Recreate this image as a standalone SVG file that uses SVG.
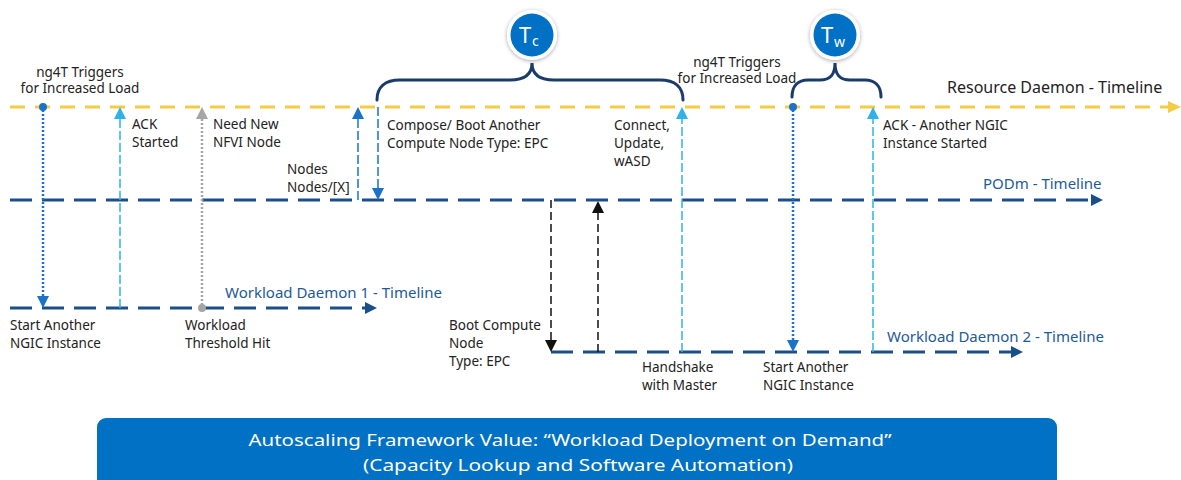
<svg xmlns="http://www.w3.org/2000/svg" width="1181" height="480" viewBox="0 0 1181 480">
<defs>
<style>
text{font-family:"Noto Sans","Open Sans","Liberation Sans",sans-serif;font-size:13.5px;fill:#222}
.lbl{fill:#1d5a9a;font-size:15px}
.big{fill:#222;font-size:16px}
.yl{stroke:#f3cb45;stroke-width:3;stroke-dasharray:15 10;fill:none}
.dl{stroke:#1b4f8a;stroke-width:3;stroke-dasharray:22 10;fill:none}
.bdot{stroke:#1a73c8;stroke-width:2.5;stroke-dasharray:2 2;fill:none}
.gdot{stroke:#a6a6a6;stroke-width:2.5;stroke-dasharray:2 2;fill:none}
.lb{stroke:#2fb2ea;stroke-width:1.5;stroke-dasharray:9 3;fill:none}
.bd{stroke:#1a73c8;stroke-width:1.5;stroke-dasharray:9 3;fill:none}
.kd{stroke:#111;stroke-width:1.5;stroke-dasharray:8 4;fill:none}
.brace{stroke:#1b3c6b;stroke-width:3;fill:none;stroke-linecap:round}
.tc{fill:#fff;font-size:22px}
.sub{fill:#fff;font-size:14px}
.bt{fill:#fff;font-size:16.5px}
</style>
<filter id="sh" x="-30%" y="-30%" width="160%" height="160%">
<feDropShadow dx="0" dy="1" stdDeviation="2" flood-color="#000" flood-opacity="0.35"/>
</filter>
</defs>

<g id="connectors">
<line class="yl" x1="10" y1="107" x2="1168" y2="107"/>
<polygon points="1168,101 1181,107 1168,113" fill="#f3cb45"/>
<line class="dl" x1="10" y1="200" x2="1091" y2="200"/>
<polygon points="1091,194 1103,200 1091,206" fill="#1b4f8a"/>
<line class="dl" x1="10" y1="308" x2="365" y2="308"/>
<polygon points="365,302 377,308 365,314" fill="#1b4f8a"/>
<line class="dl" x1="551" y1="352" x2="1011" y2="352"/>
<polygon points="1011,346 1023,352 1011,358" fill="#1b4f8a"/>

<line class="bdot" x1="43" y1="110" x2="43" y2="297"/>
<circle cx="43" cy="107" r="4" fill="#1a73c8"/>
<polygon points="37,296 49,296 43,308" fill="#1a73c8"/>

<line class="lb" x1="120" y1="308" x2="120" y2="119"/>
<polygon points="114,119 126,119 120,107" fill="#2fb2ea"/>

<line class="gdot" x1="202" y1="305" x2="202" y2="119"/>
<circle cx="202" cy="308" r="4" fill="#a6a6a6"/>
<polygon points="196,119 208,119 202,107" fill="#a6a6a6"/>

<line class="bd" x1="358" y1="200" x2="358" y2="119"/>
<polygon points="352,119 364,119 358,107" fill="#1a73c8"/>

<line class="bd" x1="378" y1="107" x2="378" y2="188"/>
<polygon points="372,188 384,188 378,200" fill="#1a73c8"/>

<line class="kd" x1="551" y1="200" x2="551" y2="340"/>
<polygon points="545,340 557,340 551,352" fill="#111"/>

<line class="kd" x1="598" y1="352" x2="598" y2="213"/>
<polygon points="592,213 604,213 598,201" fill="#111"/>

<line class="lb" x1="682" y1="352" x2="682" y2="119"/>
<polygon points="676,119 688,119 682,107" fill="#2fb2ea"/>

<line class="bdot" x1="793" y1="110" x2="793" y2="340"/>
<circle cx="793" cy="107" r="4" fill="#1a73c8"/>
<polygon points="787,340 799,340 793,352" fill="#1a73c8"/>

<line class="lb" x1="873" y1="352" x2="873" y2="119"/>
<polygon points="867,119 879,119 873,107" fill="#2fb2ea"/>

<path class="brace" d="M377,100 C377,87 385,80 400,80 L510,80 C524,80 532,75 532,63 C532,75 540,80 554,80 L660,80 C675,80 683,87 683,100"/>
<path class="brace" d="M792,97 C792,86 798,80 808,80 L820,80 C830,80 835,75 835,63 C835,75 840,80 850,80 L865,80 C875,80 881,86 881,97"/>
</g>

<g id="tc">
<circle cx="532" cy="35" r="25" fill="#fff" filter="url(#sh)"/>
<circle cx="532" cy="35" r="21.5" fill="#0071c5"/>
<text class="tc" x="519" y="43">T</text><text class="sub" x="532" y="46">c</text>
</g>
<g id="tw">
<circle cx="835" cy="35" r="25" fill="#fff" filter="url(#sh)"/>
<circle cx="835" cy="35" r="21.5" fill="#0071c5"/>
<text class="tc" x="821" y="43">T</text><text class="sub" x="834" y="47">w</text>
</g>

<g id="labels">
<text x="80" y="77" text-anchor="middle">ng4T Triggers</text>
<text x="80" y="93" text-anchor="middle">for Increased Load</text>
<text x="737" y="67" text-anchor="middle">ng4T Triggers</text>
<text x="737" y="83" text-anchor="middle">for Increased Load</text>
<text class="big" x="947" y="93">Resource Daemon - Timeline</text>
<text class="lbl" x="983" y="189">PODm - Timeline</text>
<text class="lbl" x="225" y="298">Workload Daemon 1 - Timeline</text>
<text class="lbl" x="887" y="342">Workload Daemon 2 - Timeline</text>

<text x="132" y="129">ACK</text>
<text x="132" y="147">Started</text>
<text x="213" y="129">Need New</text>
<text x="213" y="147">NFVI Node</text>
<text x="287" y="174">Nodes</text>
<text x="287" y="192">Nodes/[X]</text>
<text x="387" y="130">Compose/ Boot Another</text>
<text x="387" y="148">Compute Node Type: EPC</text>
<text x="614" y="130">Connect,</text>
<text x="614" y="148">Update,</text>
<text x="614" y="166">wASD</text>
<text x="883" y="130">ACK - Another NGIC</text>
<text x="883" y="148">Instance Started</text>

<text x="10" y="330">Start Another</text>
<text x="10" y="348">NGIC Instance</text>
<text x="185" y="330">Workload</text>
<text x="185" y="348">Threshold Hit</text>
<text x="449" y="330">Boot Compute</text>
<text x="449" y="348">Node</text>
<text x="449" y="366">Type: EPC</text>
<text x="642" y="372">Handshake</text>
<text x="642" y="390">with Master</text>
<text x="763" y="372">Start Another</text>
<text x="763" y="390">NGIC Instance</text>
</g>

<g id="banner">
<rect x="97" y="418" width="960" height="80" rx="9" fill="#0071c5"/>
<text class="bt" x="570" y="446" text-anchor="middle" textLength="643" lengthAdjust="spacingAndGlyphs">Autoscaling Framework Value: “Workload Deployment on Demand”</text>
<text class="bt" x="578" y="471" text-anchor="middle" textLength="430" lengthAdjust="spacingAndGlyphs">(Capacity Lookup and Software Automation)</text>
</g>
</svg>
